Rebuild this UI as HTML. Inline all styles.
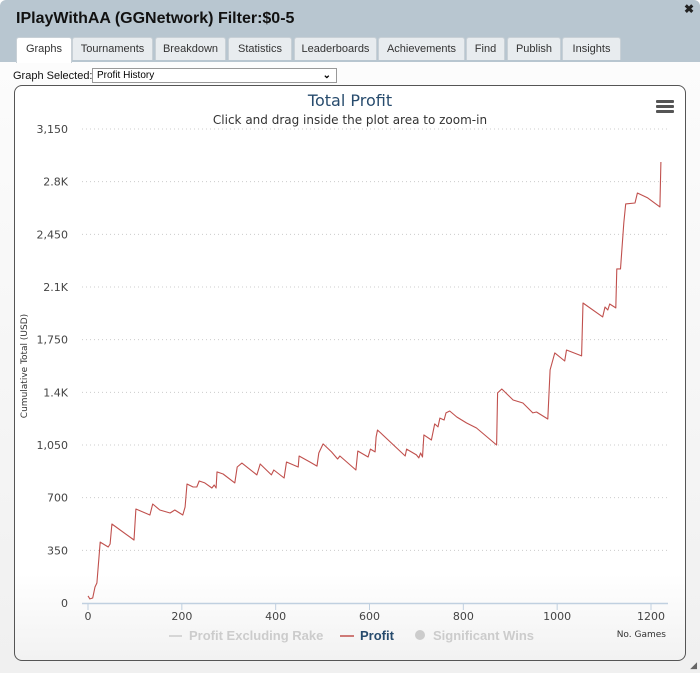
<!DOCTYPE html>
<html><head><meta charset="utf-8">
<style>
body{margin:0;width:700px;height:673px;overflow:hidden;background:#fff;font-family:"Liberation Sans",sans-serif;}
#win{position:absolute;left:0;top:0;width:700px;height:673px;background:linear-gradient(#fdfdfd,#f0f0f0);border-radius:6px 6px 0 0;}
#hdr{position:absolute;left:0;top:0;width:700px;height:62px;background:#b8c6d0;border-radius:6px 6px 0 0;}
#ttl{position:absolute;left:16px;top:10px;font-size:16px;font-weight:bold;color:#111;}
#close{position:absolute;right:6px;top:2px;font-size:12px;font-weight:bold;color:#222;}
.tab{position:absolute;top:37px;height:22px;background:#e8ecef;border:1px solid #c8d0d6;border-bottom:none;border-radius:3px 3px 0 0;font-size:11px;color:#333;text-align:center;line-height:22px;}
.tab.on{background:#fff;height:25px;}
#gs{position:absolute;left:13px;top:70px;font-size:11px;color:#111;}
#sel{position:absolute;left:92px;top:68px;border:1px solid #999;background:#fff;font-size:10px;line-height:14px;padding-left:4px;box-sizing:border-box;width:245px;height:15px;}
#chartbox{position:absolute;left:14px;top:85px;width:672px;height:576px;border:1px solid #555;border-radius:8px;background:linear-gradient(#fff 85%,#f2f2f2);box-sizing:border-box;}
svg text{font-family:"DejaVu Sans","Liberation Sans",sans-serif;}
svg text.leg{font-family:"Liberation Sans Narrow","Liberation Sans",sans-serif;}
</style></head><body>
<div id="win">
<div id="hdr"></div>
<div id="ttl">IPlayWithAA (GGNetwork) Filter:$0-5</div>
<div id="close">✖</div>
<div class="tab on" style="left:16px;width:54px">Graphs</div>
<div class="tab" style="left:72px;width:79px">Tournaments</div>
<div class="tab" style="left:155px;width:69px">Breakdown</div>
<div class="tab" style="left:228px;width:62px">Statistics</div>
<div class="tab" style="left:294px;width:81px">Leaderboards</div>
<div class="tab" style="left:378px;width:85px">Achievements</div>
<div class="tab" style="left:466px;width:37px">Find</div>
<div class="tab" style="left:507px;width:52px">Publish</div>
<div class="tab" style="left:562px;width:57px">Insights</div>
<div id="gs">Graph Selected:</div>
<div id="sel">Profit History<span style="position:absolute;right:5px;top:0;font-size:10px;font-weight:bold">⌄</span></div>
<div id="chartbox"></div>
<svg id="chart" width="700" height="673" style="position:absolute;left:0;top:0"></svg>
<div style="position:absolute;right:3px;bottom:2px;font-size:9px;color:#666">◢</div>
</div>
<script>
const games=[0,4,10,15,19,26,43,47,51,98,102,132,138,153,175,185,202,207,211,224,232,237,249,264,269,273,275,288,313,318,328,360,367,391,396,418,423,448,450,473,488,492,501,519,532,537,571,575,597,602,612,614,617,622,676,679,700,705,709,713,716,732,739,746,750,759,763,771,786,807,828,871,873,882,906,927,948,956,980,985,995,1016,1020,1052,1055,1097,1102,1108,1112,1125,1127,1135,1142,1146,1166,1171,1193,1219,1221];
const profit=[47,27,33,106,133,405,372,392,525,419,625,585,658,618,598,618,585,638,791,771,771,811,798,764,784,764,871,857,798,904,930,851,924,851,884,831,937,904,977,937,910,997,1057,1004,957,977,884,1010,970,1023,1004,1103,1150,1136,977,1023,984,964,997,970,1117,1083,1190,1170,1229,1216,1263,1276,1236,1196,1163,1050,1396,1422,1349,1329,1263,1269,1223,1549,1662,1608,1681,1642,1994,1901,1967,1947,1987,1961,2220,2220,2525,2652,2658,2725,2692,2632,2931];
const yTicks=[0,350,700,1050,1400,1750,2100,2450,2800,3150];
const yLabels=["0","350","700","1,050","1.4K","1,750","2.1K","2,450","2.8K","3,150"];
const xTicks=[0,200,400,600,800,1000,1200];
const X0=88,X1=651,Y0=603,Y1=129;
const xs=v=>X0+(v/1200)*(X1-X0);
const ys=v=>Y0-(v/3150)*(Y0-Y1);
const svg=document.getElementById('chart');
const NS='http://www.w3.org/2000/svg';
function mk(tag,attrs,txt){const e=document.createElementNS(NS,tag);for(const k in attrs)e.setAttribute(k,attrs[k]);if(txt!==undefined)e.textContent=txt;svg.appendChild(e);return e;}
let e;
e=mk('text',{x:350,y:106,'text-anchor':'middle','font-size':16,fill:'#274b6d'},'Total Profit');


e=mk('text',{x:350,y:124,'text-anchor':'middle','font-size':12,fill:'#333'},'Click and drag inside the plot area to zoom-in');


e=mk('g',{});


[0,5,10].forEach(d=>{const r=mk('rect',{x:656,y:100+d,width:18,height:3,rx:1,fill:'#555'});e.appendChild(r);});
yTicks.forEach((t,i)=>{
 if(i>0){const g=mk('line',{x1:82,x2:668,y1:ys(t),y2:ys(t),stroke:'#ccc','stroke-dasharray':'1,3'});
 
 }
 const l=mk('text',{x:68,y:ys(t)+4,'text-anchor':'end','font-size':11,fill:'#444'},yLabels[i]);
 
 
});
e=mk('line',{x1:82,x2:668,y1:Y0+0.5,y2:Y0+0.5,stroke:'#c0d0e0','stroke-width':1.5});


xTicks.forEach(t=>{
 const tk=mk('line',{x1:xs(t),x2:xs(t),y1:Y0,y2:Y0+7,stroke:'#c0d0e0'});
 
 
 const l=mk('text',{x:xs(t),y:620,'text-anchor':'middle','font-size':11,fill:'#444'},String(t));
 
 
});
e=mk('text',{x:27,y:366,'text-anchor':'middle','font-size':9,fill:'#333',transform:'rotate(-90 27 366)'},'Cumulative Total (USD)');


e=mk('text',{x:666,y:637,'text-anchor':'end','font-size':9,fill:'#333'},'No. Games');


let d='';
games.forEach((g,i)=>{d+=(i?'L':'M')+xs(g).toFixed(1)+','+ys(profit[i]).toFixed(1);});
e=mk('path',{d:d,fill:'none',stroke:'#c0504d','stroke-width':1.1,'stroke-linejoin':'round'});


// legend
e=mk('line',{x1:169,x2:182,y1:636,y2:636,stroke:'#ccc','stroke-width':1.5});


e=mk('text',{x:189,y:640,'font-size':13,'font-weight':'bold',fill:'#ccc',class:'leg'},'Profit Excluding Rake');


e=mk('line',{x1:340,x2:354,y1:636,y2:636,stroke:'#c0504d','stroke-width':1.5});


e=mk('text',{x:360,y:640,'font-size':13,'font-weight':'bold',fill:'#274b6d',class:'leg'},'Profit');


e=mk('circle',{cx:420,cy:635,r:5,fill:'#ccc'});


e=mk('text',{x:433,y:640,'font-size':13,'font-weight':'bold',fill:'#ccc',class:'leg'},'Significant Wins');


</script>
</body></html>
